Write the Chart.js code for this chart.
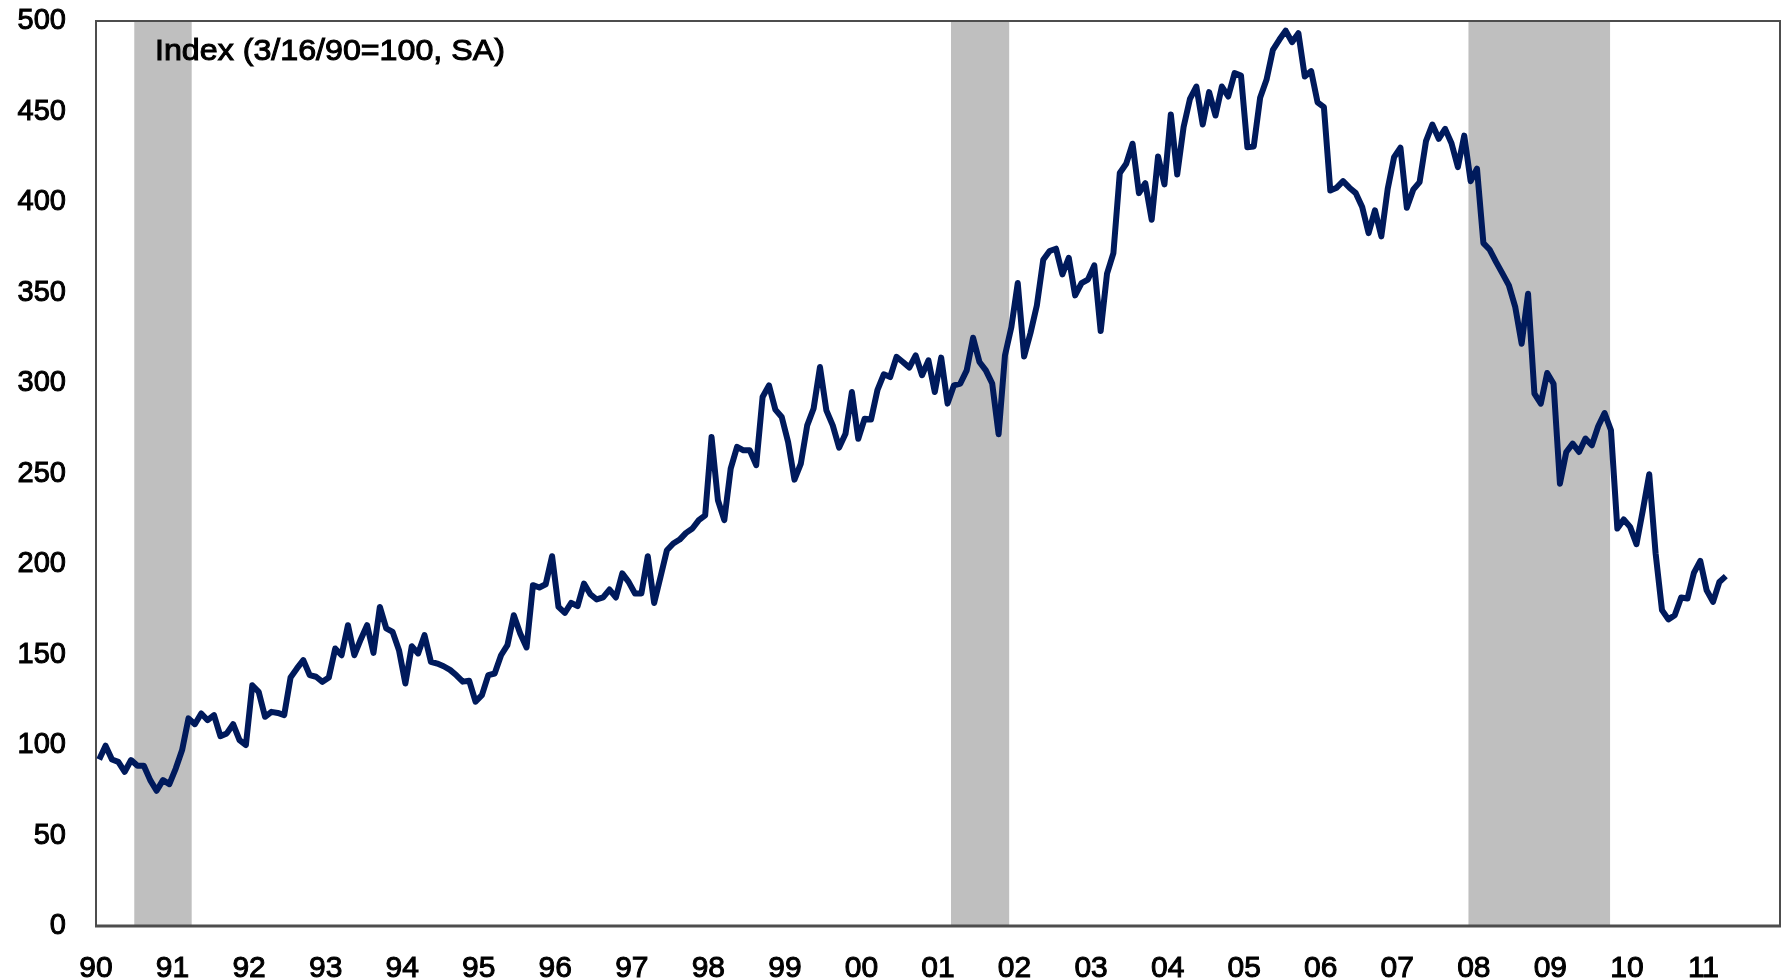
<!DOCTYPE html>
<html>
<head>
<meta charset="utf-8">
<script src="https://cdn.jsdelivr.net/npm/chart.js@4.4.1/dist/chart.umd.min.js"></script>
<style>
  html, body { margin: 0; padding: 0; background: #ffffff; }
</style>
</head>
<body>
<canvas id="chart" width="1782" height="980"></canvas>
<script>
// monthly index, Jan 1990 .. Apr 2011
const startYear = 1990;
const indexValues = [
  92, 99.6, 92, 90.7, 85.2, 91.7, 88.5, 88.5, 80.6, 74.7, 80.6, 78.4,            // 90
  87, 97.2, 114.7, 111.5, 117.4, 113.7, 116.5, 104.9, 106.4, 111.5, 102.7, 100,  // 91
  133, 129.4, 115.6, 118.3, 117.7, 116.5, 137.3, 142.3, 146.9, 138.6, 137.7, 134.9, // 92
  137.3, 153.3, 149.6, 166.2, 149.6, 158.3, 166.2, 150.9, 176.3, 164.4, 162.5, 152.4, // 93
  134, 154.6, 150.6, 160.7, 146, 145, 143.5, 141.5, 138.5, 135, 135.5, 124,       // 94
  127.6, 138.6, 139.5, 149.6, 155.2, 171.7, 161.6, 153.9, 188.3, 187, 188.8, 204.3, // 95
  176.3, 173, 178.5, 176.7, 189.2, 183.3, 180.4, 181.5, 185.9, 181.5, 194.8, 190.1, // 96
  183.7, 183.7, 204.3, 178.5, 192.9, 207.6, 211.3, 213.5, 217.2, 219.6, 224.2, 226.9, // 97
  270.2, 235.2, 224.2, 252.7, 264.7, 262.8, 262.8, 254.6, 292.3, 298.7, 285.3, 281.2, // 98
  267.4, 246.6, 255.5, 276.6, 285.9, 308.8, 284.9, 276.6, 264.3, 272, 295, 269.2,   // 99
  280.3, 279.8, 296, 304.8, 303.3, 314.4, 311.6, 308.5, 315.3, 304.3, 312.5, 295,   // 00
  314, 288.6, 298.7, 299.7, 307, 325, 311.6, 307, 299.7, 271.7, 315.3, 330.9,       // 01
  355.2, 314.7, 327.6, 342.9, 368.1, 372.9, 374.2, 360, 369.2, 348.4, 355.2, 357.1, // 02
  365, 328.7, 360.4, 371.8, 416, 421.1, 432.2, 404.9, 410.4, 390.2, 425.2, 409.7,   // 03
  448.4, 415.2, 441.4, 457, 463.8, 442.8, 460.7, 447.8, 463.8, 458.3, 471.2, 469.9, // 04
  430.3, 430.7, 457.6, 467.5, 484.1, 489.6, 494.7, 488.3, 493.3, 469.3, 472.3, 455.1, // 05
  452.4, 406.4, 407.9, 411.5, 407.9, 404.9, 397.2, 382.8, 395.4, 381, 407.3, 424.8, // 06
  430, 396.8, 406.8, 411, 433.6, 442.8, 434.9, 440.4, 432.5, 419.3, 436.7, 411.5,   // 07
  418.4, 377.3, 373.6, 366.8, 360.4, 353.9, 341.9, 321.7, 349.3, 294.1, 288.6, 305.5, // 08
  299.6, 244.4, 261.9, 266.5, 261.9, 269.3, 265.6, 276.1, 283.4, 273.9, 219.6, 224.6, // 09
  220.5, 210.9, 229.7, 249.6, 205.8, 174.5, 169.4, 171.7, 181.5, 180.9, 195.1, 201.7, // 10
  185.5, 179.1, 190.1, 193.3                                                      // 11
];

// shaded recession periods (decimal years)
const recessions = [
  [1990.5, 1991.25],
  [2001.17, 2001.93],
  [2007.93, 2009.78]
];

const yearLabels = ['90', '91', '92', '93', '94', '95', '96', '97', '98', '99', '00',
  '01', '02', '03', '04', '05', '06', '07', '08', '09', '10', '11'];
const yTicks = [0, 50, 100, 150, 200, 250, 300, 350, 400, 450, 500];
const titleText = 'Index (3/16/90=100, SA)';

// each month sits in the middle of its slot
const points = indexValues.map((v, i) => ({ x: startYear + (i + 0.5) / 12, y: v }));

const FONT = "'Liberation Sans', Arial, sans-serif";

// gray bars + frame under the line, label on top
const backdropPlugin = {
  id: 'backdrop',
  beforeDatasetsDraw(chart) {
    const { ctx, chartArea, scales } = chart;
    ctx.save();
    ctx.fillStyle = '#bfbfbf';
    recessions.forEach(([from, to]) => {
      const x1 = scales.x.getPixelForValue(from);
      const x2 = scales.x.getPixelForValue(to);
      ctx.fillRect(x1, chartArea.top, x2 - x1, chartArea.bottom - chartArea.top);
    });
    ctx.strokeStyle = '#4d4d4d';
    ctx.lineWidth = 2;
    ctx.strokeRect(chartArea.left, chartArea.top, chartArea.right - chartArea.left, chartArea.bottom - chartArea.top);
    ctx.lineWidth = 3;
    ctx.beginPath();
    ctx.moveTo(chartArea.left - 1, chartArea.bottom);
    ctx.lineTo(chartArea.right + 1, chartArea.bottom);
    ctx.stroke();
    ctx.restore();
  },
  afterDatasetsDraw(chart) {
    const { ctx, chartArea } = chart;
    ctx.save();
    ctx.fillStyle = '#000000';
    ctx.strokeStyle = '#000000';
    ctx.lineWidth = 1;
    ctx.font = '29px ' + FONT;
    ctx.textBaseline = 'alphabetic';
    // source text renders a bit wider than Liberation Sans
    ctx.translate(chartArea.left + 59, chartArea.top + 39);
    ctx.scale(1.11, 1);
    ctx.strokeText(titleText, 0, 0);
    ctx.fillText(titleText, 0, 0);
    ctx.restore();
  }
};

new Chart(document.getElementById('chart'), {
  type: 'line',
  data: {
    datasets: [{
      data: points,
      borderColor: '#001a5c',
      borderWidth: 6,
      borderJoinStyle: 'round',
      pointRadius: 0,
      tension: 0,
      fill: false
    }]
  },
  options: {
    responsive: false,
    animation: false,
    layout: { padding: { top: 21, right: 2, left: 0, bottom: 0 } },
    plugins: {
      legend: { display: false },
      tooltip: { enabled: false }
    },
    scales: {
      x: {
        type: 'linear',
        min: 1990,
        max: 2012,
        grid: { display: false, drawTicks: false },
        border: { display: false },
        ticks: {
          stepSize: 1,
          autoSkip: false,
          maxRotation: 0,
          padding: 25,
          color: '#000000',
          textStrokeColor: '#000000',
          textStrokeWidth: 1,
          font: { family: FONT, size: 30 },
          callback: (value) => yearLabels[value - startYear] || ''
        },
        afterFit: (scale) => {
          scale.height = 54;
          scale.paddingLeft = 0;
          scale.paddingRight = 0;
        }
      },
      y: {
        min: 0,
        max: 500,
        grid: { display: false, drawTicks: false },
        border: { display: false },
        afterBuildTicks: (scale) => { scale.ticks = yTicks.map(v => ({ value: v })); },
        ticks: {
          padding: 30,
          color: '#000000',
          textStrokeColor: '#000000',
          textStrokeWidth: 1,
          font: { family: FONT, size: 29 }
        },
        afterFit: (scale) => {
          scale.width = 96;
          scale.paddingTop = 0;
          scale.paddingBottom = 0;
        }
      }
    }
  },
  plugins: [backdropPlugin]
});
</script>
</body>
</html>
